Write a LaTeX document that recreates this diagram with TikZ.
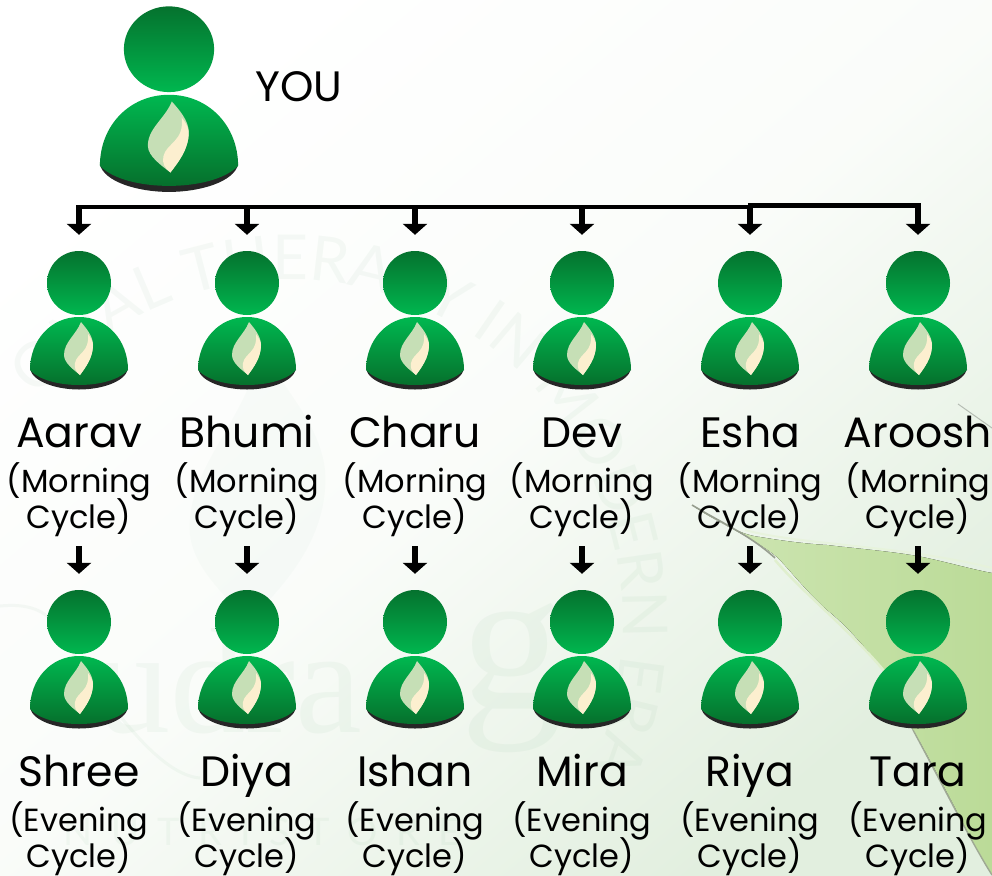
\documentclass[tikz,border=0pt]{standalone}
\usepackage{fontspec}
\setmainfont{Poppins}
\newfontfamily\wmfont{Lato}
\newfontfamily\wmserif{Liberation Serif}
\usetikzlibrary{arrows.meta,decorations.text}
\definecolor{hdtop}{HTML}{05722E}
\definecolor{hdbot}{HTML}{00B74F}
\definecolor{bdtop}{HTML}{00B850}
\definecolor{bdbot}{HTML}{06702C}
\definecolor{shadowc}{HTML}{262626}
\definecolor{flamea}{HTML}{C6DFB6}
\definecolor{flameb}{HTML}{FCEFCF}
\definecolor{wmark}{HTML}{4F9A62}
\definecolor{bgend}{HTML}{E2EFDF}
\definecolor{leafa}{HTML}{CFE6B4}
\definecolor{leafb}{HTML}{BBDB98}
\tikzset{
  iconbox/.style={inner sep=0pt,minimum width=98pt,minimum height=139pt},
  namelabel/.style={inner sep=0pt,anchor=base,font=\fontsize{42.5}{43}\selectfont},
  sublabel/.style={inner sep=0pt,anchor=base,font=\fontsize{32}{32}\selectfont},
  youlabel/.style={inner sep=0pt,anchor=base west,font=\fontsize{42.5}{43}\selectfont},
  barline/.style={line width=4pt,black},
  downarrow/.style={line width=6pt,black,-{Triangle[width=24pt,length=11pt]},shorten >=15pt},
}
\newcommand{\personicon}[4]{%
  \begin{scope}[shift={(#1,#2)},xscale=#3,yscale=#4]
    \shade[top color=hdtop,bottom color=hdbot] (0,33) circle[radius=32];
    \fill[shadowc] (-49,119) .. controls (-46,132) and (-22,139.5) .. (0,139.5)
       .. controls (22,139.5) and (46,132) .. (49,119) -- cycle;
    \shade[top color=bdtop,bottom color=bdbot]
       (-49,120) .. controls (-49,90) and (-28,67) .. (0,67)
       .. controls (28,67) and (49,90) .. (49,120)
       .. controls (40,130) and (20,135) .. (0,135)
       .. controls (-20,135) and (-40,130) .. (-49,120) -- cycle;
    \fill[flamea] (2,72) .. controls (-3,85) and (-15,92) .. (-15,105)
       .. controls (-15,113) and (-5,120) .. (1,125)
       .. controls (6,118) and (14,108) .. (14,95)
       .. controls (14,86) and (7,78) .. (2,72) -- cycle;
    \fill[flameb] (1,125) .. controls (-3,122) and (-5,118) .. (-4,113)
       .. controls (-2,103) and (11,102) .. (9,84)
       .. controls (12,88) and (14,92) .. (14,95)
       .. controls (14,108) and (6,118) .. (1,125) -- cycle;
  \end{scope}}
\begin{document}
\begin{tikzpicture}[x=1pt,y=-1pt]
\useasboundingbox (0,0) rectangle (992,875);
% background
\begin{scope}
  \clip (0,0) rectangle (992,875);
  \shade[left color=white,right color=bgend,middle color=white!82!bgend,shading angle=40] (0,0) rectangle (992,875);
  % pale flame watermark
  \fill[wmark,opacity=.025] (262,350) .. controls (240,430) and (185,470) .. (190,535)
     .. controls (195,575) and (235,600) .. (245,625)
     .. controls (280,590) and (330,540) .. (325,470)
     .. controls (320,425) and (285,390) .. (262,350) -- cycle;
  \begin{scope}[opacity=.05]
  % arc text watermark
  \path[decorate,decoration={text along path,text align=left,
     text={|\wmfont\fontsize{62}{62}\selectfont\color{wmark}|ONAL THERAPY IN MODERN ERA}}]
     (37,398) .. controls (113,307.5) and (231,264.5) .. (347,285)
     .. controls (463,305.5) and (560,386) .. (600,497)
     .. controls (640.5,608) and (630,732) .. (543,860);
  % brand watermark
  \node[inner sep=0pt,anchor=base west,text=wmark,font=\wmserif\fontsize{150}{150}\selectfont] (wmbrand) at (95,732) {udra};
  \node[inner sep=0pt,anchor=base west,text=wmark,font=\wmserif\fontsize{205}{205}\selectfont] (wmg) at (460,708) {g};
  \draw[wmark,line width=3pt] (0,606) .. controls (60,600) and (60,640) .. (85,670)
     .. controls (115,710) and (160,775) .. (200,778);
  \node[inner sep=0pt,text=wmark,font=\wmfont\fontsize{38}{38}\selectfont\addfontfeature{LetterSpace=48}] (wmstore) at (262,832) {NUTRISTORE};
  \end{scope}
  % leaf
  \fill[left color=leafa,right color=leafb] (692,505)
     .. controls (715,520) and (740,535) .. (760,537)
     .. controls (790,542) and (810,544) .. (827,545)
     .. controls (860,549) and (900,552) .. (927,558)
     .. controls (950,563) and (975,570) .. (992,573)
     -- (992,875)
     .. controls (975,850) and (945,785) .. (913,730)
     .. controls (900,705) and (890,685) .. (883,670)
     .. controls (860,640) and (840,620) .. (827,610)
     .. controls (805,590) and (790,570) .. (777,557)
     .. controls (750,535) and (715,522) .. (692,505) -- cycle;
  \draw[white!50!leafa,line width=2pt,opacity=.8] (745,530) .. controls (800,545) and (900,545) .. (992,568);
  \draw[gray!70!leafa,line width=1.6pt] (692,505) .. controls (720,522) and (750,535) .. (775,558);
  \draw[white!35!leafa,line width=2.5pt] (775,560) .. controls (800,590) and (850,630) .. (885,672);
  \draw[gray!60!leafa,line width=1.4pt] (913,730) .. controls (940,780) and (970,840) .. (992,875);
  \draw[gray!45!bgend,line width=1pt] (958,404) -- (992,428);
\end{scope}
% top person
\node[iconbox,minimum width=138pt,minimum height=186pt] (you) at (169,98) {};
\personicon{169}{5}{1.41}{1.34}
\node[youlabel] (youtext) at (255,101) {YOU};
% bar
\coordinate (barstart) at (76,207);
\coordinate (barjoin) at (752,207);
\coordinate (barjoinb) at (748,205.5);
\coordinate (barend) at (921,205.5);
% people
\foreach \i/\cx/\na/\nb in {1/79/Aarav/Shree,2/247/Bhumi/Diya,3/415/Charu/Ishan,4/582/Dev/Mira,5/750/Esha/Riya,6/918/Aroosh/Tara}{
  \node[iconbox] (a\i) at (\cx,319.5) {};
  \personicon{\cx}{250}{1}{1}
  \node[namelabel] (na\i) at (\cx,447.5) {\na};
  \node[sublabel] (sa\i) at (\cx,492) {(Morning};
  \node[sublabel] (ca\i) at (\cx,528) {Cycle)};
  \node[iconbox] (b\i) at (\cx,658.5) {};
  \personicon{\cx}{589}{1}{1}
  \node[namelabel] (nb\i) at (\cx,786.5) {\nb};
  \node[sublabel] (sb\i) at (\cx,831) {(Evening};
  \node[sublabel] (cb\i) at (\cx,867) {Cycle)};
  \draw[downarrow] (a\i.north |- barstart) -- (a\i.north);
  \draw[downarrow] (b\i.north |- 0,546) -- (b\i.north);
}
\draw[barline] (barstart) -- (barjoin);
\draw[barline,line width=4.6pt] (barjoinb) -- (barend);
\end{tikzpicture}
\end{document}
